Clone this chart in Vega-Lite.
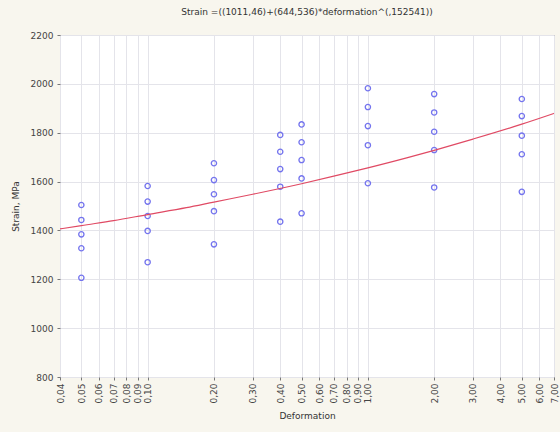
{
  "$schema": "https://vega.github.io/schema/vega-lite/v6.json",
  "autosize": "none",
  "width": 494,
  "height": 342,
  "padding": {"left": 60, "top": 35, "right": 6, "bottom": 55},
  "background": "#f8f6ee",
  "config": {
    "view": {"fill": "white", "stroke": "#666666", "strokeWidth": 1},
    "font": "DejaVu Sans"
  },
  "title": {
    "text": "Strain =((1011,46)+(644,536)*deformation^(,152541))",
    "fontSize": 9,
    "fontWeight": "normal",
    "color": "#333333",
    "offset": 14
  },
  "datasets": {
    "points": [
      {"d": 0.05, "s": 1504}, {"d": 0.05, "s": 1443}, {"d": 0.05, "s": 1384}, {"d": 0.05, "s": 1327}, {"d": 0.05, "s": 1206},
      {"d": 0.10, "s": 1582}, {"d": 0.10, "s": 1518}, {"d": 0.10, "s": 1459}, {"d": 0.10, "s": 1398}, {"d": 0.10, "s": 1270},
      {"d": 0.20, "s": 1675}, {"d": 0.20, "s": 1606}, {"d": 0.20, "s": 1548}, {"d": 0.20, "s": 1479}, {"d": 0.20, "s": 1343},
      {"d": 0.40, "s": 1791}, {"d": 0.40, "s": 1722}, {"d": 0.40, "s": 1651}, {"d": 0.40, "s": 1579}, {"d": 0.40, "s": 1436},
      {"d": 0.50, "s": 1834}, {"d": 0.50, "s": 1761}, {"d": 0.50, "s": 1688}, {"d": 0.50, "s": 1613}, {"d": 0.50, "s": 1470},
      {"d": 1.00, "s": 1982}, {"d": 1.00, "s": 1905}, {"d": 1.00, "s": 1827}, {"d": 1.00, "s": 1749}, {"d": 1.00, "s": 1593},
      {"d": 2.00, "s": 1958}, {"d": 2.00, "s": 1883}, {"d": 2.00, "s": 1804}, {"d": 2.00, "s": 1729}, {"d": 2.00, "s": 1576},
      {"d": 5.00, "s": 1938}, {"d": 5.00, "s": 1868}, {"d": 5.00, "s": 1788}, {"d": 5.00, "s": 1712}, {"d": 5.00, "s": 1558}
    ],
    "fit": [
      {"d": 0.04, "s": 1406}, {"d": 0.05, "s": 1420}, {"d": 0.07, "s": 1440}, {"d": 0.1, "s": 1465},
      {"d": 0.15, "s": 1493}, {"d": 0.2, "s": 1516}, {"d": 0.3, "s": 1548}, {"d": 0.5, "s": 1591},
      {"d": 0.7, "s": 1622}, {"d": 1.0, "s": 1656}, {"d": 1.5, "s": 1697}, {"d": 2.0, "s": 1728},
      {"d": 3.0, "s": 1774}, {"d": 5.0, "s": 1835}, {"d": 7.0, "s": 1879}
    ]
  },
  "layer": [
    {
      "data": {"name": "points"},
      "mark": {"type": "point", "shape": "circle", "filled": false, "stroke": "#7474ee", "strokeWidth": 1.3, "size": 28, "opacity": 1},
      "encoding": {
        "x": {
          "field": "d", "type": "quantitative",
          "scale": {"type": "log", "domain": [0.04, 7], "nice": false},
          "axis": {
            "title": "Deformation",
            "titleFontSize": 9, "titleFontWeight": "normal", "titleColor": "#333333", "titlePadding": 8,
            "values": [0.04, 0.05, 0.06, 0.07, 0.08, 0.09, 0.1, 0.2, 0.3, 0.4, 0.5, 0.6, 0.7, 0.8, 0.9, 1, 2, 3, 4, 5, 6, 7],
            "labelExpr": "replace(format(datum.value, '.2f'), '.', ',')",
            "labelAngle": -90, "labelFontSize": 9, "labelColor": "#444444", "labelOverlap": false, "labelPadding": 3,
            "grid": true, "gridColor": "#e4e4ea", "gridWidth": 1,
            "domain": false, "tickSize": 3, "tickColor": "#777777"
          }
        },
        "y": {
          "field": "s", "type": "quantitative",
          "scale": {"domain": [800, 2200], "nice": false, "zero": false},
          "axis": {
            "title": "Strain, MPa",
            "titleFontSize": 9, "titleFontWeight": "normal", "titleColor": "#333333", "titlePadding": 10,
            "values": [800, 1000, 1200, 1400, 1600, 1800, 2000, 2200],
            "format": "d",
            "labelFontSize": 9, "labelColor": "#444444", "labelPadding": 4,
            "grid": true, "gridColor": "#e4e4ea", "gridWidth": 1,
            "domain": false, "tickSize": 3, "tickColor": "#777777"
          }
        }
      }
    },
    {
      "data": {"name": "fit"},
      "mark": {"type": "line", "color": "#e04a64", "strokeWidth": 1.2, "interpolate": "monotone"},
      "encoding": {
        "x": {"field": "d", "type": "quantitative"},
        "y": {"field": "s", "type": "quantitative"}
      }
    }
  ]
}
